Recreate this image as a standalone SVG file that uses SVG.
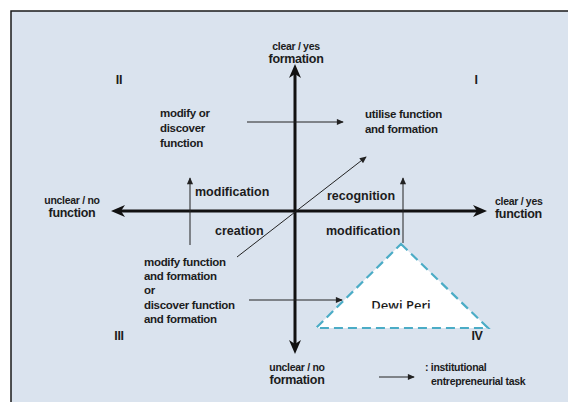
<svg xmlns="http://www.w3.org/2000/svg" width="568" height="402" viewBox="0 0 568 402">
<style>
.t{font-family:"Liberation Sans",Arial,sans-serif;font-weight:bold;fill:#1c1c1c;font-size:10.5px;letter-spacing:-0.3px}
.m{font-size:12.5px;letter-spacing:0}
.big{font-size:12.5px;letter-spacing:-0.3px}
.q{font-size:11.5px}
.ax{stroke:#111;stroke-width:3;fill:none}
.sm{stroke:#222;stroke-width:1;fill:none}
</style>
<defs>
<marker id="hb" viewBox="0 0 16 14" refX="9" refY="7" markerWidth="16" markerHeight="14" markerUnits="userSpaceOnUse" orient="auto-start-reverse">
<path d="M1,1 L15,7 L1,13 L5,7 Z" fill="#111"/>
</marker>
<marker id="hs" viewBox="0 0 8 8" refX="7" refY="4" markerWidth="8" markerHeight="7" markerUnits="userSpaceOnUse" orient="auto">
<path d="M0,0.5 L8,4 L0,7.5 Z" fill="#222"/>
</marker>
<clipPath id="cp"><rect x="340" y="280" width="120" height="28.5"/></clipPath>
</defs>
<rect x="0" y="0" width="568" height="402" fill="#ffffff"/>
<rect x="11" y="11" width="560" height="395" fill="#dae3ee"/>
<path d="M11,402 L11,11 L568,11" fill="none" stroke="#1a1a1a" stroke-width="1.5"/>
<g id="connectors">
<line class="ax" x1="295" y1="348" x2="295" y2="70" marker-start="url(#hb)" marker-end="url(#hb)"/>
<line class="ax" x1="117" y1="211" x2="481" y2="211" marker-start="url(#hb)" marker-end="url(#hb)"/>
<line class="sm" x1="247" y1="122" x2="343" y2="122" marker-end="url(#hs)"/>
<line class="sm" x1="237" y1="257" x2="366" y2="157" marker-end="url(#hs)"/>
<line class="sm" x1="190" y1="245" x2="190" y2="178" marker-end="url(#hs)"/>
<line class="sm" x1="403" y1="243" x2="403" y2="178" marker-end="url(#hs)"/>
<line class="sm" x1="249" y1="300" x2="342" y2="300" marker-end="url(#hs)"/>
<line class="sm" x1="379" y1="377" x2="414" y2="377" marker-end="url(#hs)"/>
</g>
<g id="triangle">
<polygon points="401,244 488,328 316,328" fill="#ffffff" stroke="#4bacc6" stroke-width="2.2" stroke-dasharray="9,5"/>
<text x="401" y="309.5" clip-path="url(#cp)" text-anchor="middle" style="font-family:'Open Sans','Noto Sans',sans-serif;font-weight:600;font-size:13px;fill:#1a1a1a">Dewi Peri</text>
</g>
<g id="axis-top"><text class="t" x="296" y="50" text-anchor="middle">clear / yes</text><text class="t big" x="296" y="63" text-anchor="middle">formation</text></g>
<g id="axis-bottom"><text class="t" x="297" y="371" text-anchor="middle">unclear / no</text><text class="t big" x="297" y="384" text-anchor="middle">formation</text></g>
<g id="axis-left"><text class="t" x="72" y="204" text-anchor="middle">unclear / no</text><text class="t big" x="72" y="217" text-anchor="middle">function</text></g>
<g id="axis-right"><text class="t" x="495" y="205">clear / yes</text><text class="t big" x="495" y="218">function</text></g>
<g id="q1"><text class="t big" x="476" y="84" text-anchor="middle">I</text></g>
<g id="q2"><text class="t big" x="119" y="84" text-anchor="middle">II</text></g>
<g id="q3"><text class="t big" x="119" y="340" text-anchor="middle">III</text></g>
<g id="q4"><text class="t big" x="477" y="340" text-anchor="middle">IV</text></g>
<g id="n-modify-or"><text class="t q" x="160" y="117">modify or</text><text class="t q" x="160" y="132">discover</text><text class="t q" x="160" y="147">function</text></g>
<g id="n-utilise"><text class="t q" x="365" y="118">utilise function</text><text class="t q" x="365" y="133">and formation</text></g>
<g id="n-modify-fn"><text class="t q" x="144" y="266">modify function</text><text class="t q" x="144" y="280">and formation</text><text class="t q" x="144" y="294">or</text><text class="t q" x="144" y="309">discover function</text><text class="t q" x="144" y="323">and formation</text></g>
<g id="l-mod1"><text class="t m" x="195" y="196">modification</text></g>
<g id="l-creation"><text class="t m" x="215" y="235">creation</text></g>
<g id="l-recog"><text class="t m" x="327" y="200">recognition</text></g>
<g id="l-mod2"><text class="t m" x="326" y="235">modification</text></g>
<g id="legend"><text class="t" x="425" y="371">: institutional</text><text class="t" x="431" y="385">entrepreneurial task</text></g>
</svg>
